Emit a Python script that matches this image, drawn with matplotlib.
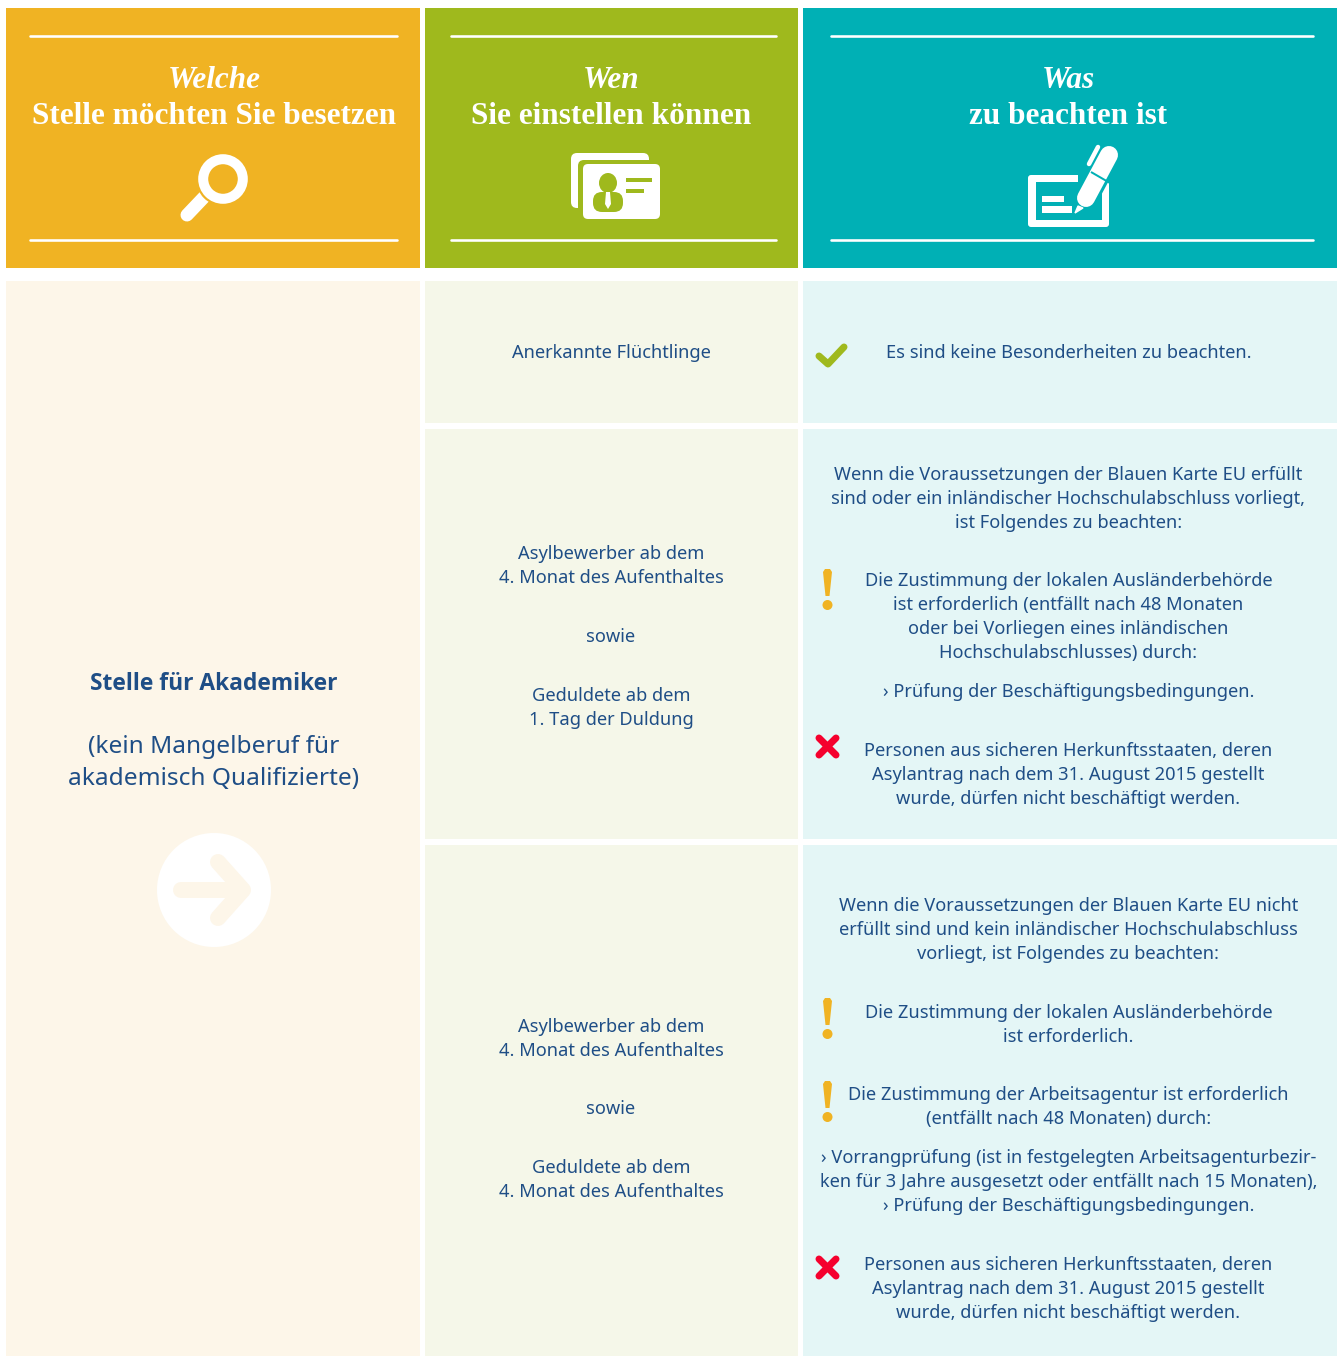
"""Job table: Stelle / Wen / Was, drawn in pixel coordinates."""
import matplotlib
matplotlib.use('Agg')
import matplotlib.pyplot as plt
from matplotlib.patches import Rectangle, FancyBboxPatch, Ellipse, Circle, Polygon

W, H = 1341, 1356

ORANGE = '#F0B323'
GREEN = '#9FB91D'
TEAL = '#00B0B5'
CREAM = '#FDF6E9'
PALE_GREEN = '#F5F7E9'
PALE_TEAL = '#E4F6F6'
NAVY = '#1F4E86'
RED = '#F5002D'
BODY = 'Noto Sans'
HEAD = 'Liberation Serif'

# texts
head_italic = ['Welche', 'Wen', 'Was']
head_bold = ['Stelle möchten Sie besetzen', 'Sie einstellen können', 'zu beachten ist']
job_title = 'Stelle für Akademiker'
job_note = ['(kein Mangelberuf für', 'akademisch Qualifizierte)']
who_1 = ['Anerkannte Flüchtlinge']
who_2 = ['Asylbewerber ab dem', '4. Monat des Aufenthaltes', 'sowie', 'Geduldete ab dem', '1. Tag der Duldung']
who_3 = ['Asylbewerber ab dem', '4. Monat des Aufenthaltes', 'sowie', 'Geduldete ab dem', '4. Monat des Aufenthaltes']
what_1 = ['Es sind keine Besonderheiten zu beachten.']
what_2 = ['Wenn die Voraussetzungen der Blauen Karte EU erfüllt',
          'sind oder ein inländischer Hochschulabschluss vorliegt,',
          'ist Folgendes zu beachten:',
          'Die Zustimmung der lokalen Ausländerbehörde',
          'ist erforderlich (entfällt nach 48 Monaten',
          'oder bei Vorliegen eines inländischen',
          'Hochschulabschlusses) durch:',
          '› Prüfung der Beschäftigungsbedingungen.',
          'Personen aus sicheren Herkunftsstaaten, deren',
          'Asylantrag nach dem 31. August 2015 gestellt',
          'wurde, dürfen nicht beschäftigt werden.']
what_3 = ['Wenn die Voraussetzungen der Blauen Karte EU nicht',
          'erfüllt sind und kein inländischer Hochschulabschluss',
          'vorliegt, ist Folgendes zu beachten:',
          'Die Zustimmung der lokalen Ausländerbehörde',
          'ist erforderlich.',
          'Die Zustimmung der Arbeitsagentur ist erforderlich',
          '(entfällt nach 48 Monaten) durch:',
          '› Vorrangprüfung (ist in festgelegten Arbeitsagenturbezir-',
          'ken für 3 Jahre ausgesetzt oder entfällt nach 15 Monaten),',
          '› Prüfung der Beschäftigungsbedingungen.',
          'Personen aus sicheren Herkunftsstaaten, deren',
          'Asylantrag nach dem 31. August 2015 gestellt',
          'wurde, dürfen nicht beschäftigt werden.']

# line centres, in pixels from the top
who_2_y = [552, 576, 635, 694, 718]
who_3_y = [1025, 1049, 1107, 1166, 1190]
what_2_y = [473, 497, 521, 579, 603, 627, 651, 690, 749, 773, 797]
what_3_y = [904, 928, 952, 1011, 1035, 1093, 1117, 1156, 1180, 1204, 1263, 1287, 1311]

fig = plt.figure(figsize=(W / 100, H / 100), dpi=100)
ax = fig.add_axes([0, 0, 1, 1])
ax.set_xlim(0, W)
ax.set_ylim(H, 0)
ax.axis('off')


def px(v):
    return v * 72 / 100


def box(x0, y0, x1, y1, color, z=1):
    ax.add_patch(Rectangle((x0, y0), x1 - x0, y1 - y0, fc=color, ec='none', zorder=z))


def rbox(x0, y0, x1, y1, color, r=4, z=3):
    ax.add_patch(FancyBboxPatch((x0 + r, y0 + r), x1 - x0 - 2 * r, y1 - y0 - 2 * r,
                                boxstyle='round,pad=%g,rounding_size=%g' % (r, r),
                                fc=color, ec='none', zorder=z))


def stroke(xs, ys, color, width, z=3, cap='round'):
    ax.plot(xs, ys, color=color, lw=px(width), solid_capstyle=cap, solid_joinstyle='round', zorder=z)


def lines(x, texts, ys, size=13.15):
    for t, y in zip(texts, ys):
        ax.text(x, y + 6.75, t, ha='center', va='baseline', color=NAVY,
                family=BODY, fontsize=size, zorder=5)


def warn(y):
    ax.add_patch(Polygon([(823, y + 3), (825, y), (830, y), (832, y + 3), (829.5, y + 27), (825.5, y + 27)],
                         fc=ORANGE, ec='none', zorder=3))
    ax.add_patch(Circle((827.5, y + 36), 5, fc=ORANGE, ec='none', zorder=3))


def cross(y):
    stroke([819, 836], [y - 8.5, y + 8.5], RED, 7)
    stroke([819, 836], [y + 8.5, y - 8.5], RED, 7)


# header and body cells
for x0, x1, head, pale in [(425, 798, GREEN, PALE_GREEN), (803, 1337, TEAL, PALE_TEAL)]:
    box(x0, 8, x1, 268, head)
    box(x0, 281, x1, 423, pale)
    box(x0, 429, x1, 839, pale)
    box(x0, 845, x1, 1356, pale)
box(6, 8, 420, 268, ORANGE)
box(6, 281, 420, 1356, CREAM)

# white rules in the header
for x0, x1 in [(29, 398), (450, 777), (830, 1314)]:
    for y in (36, 240):
        stroke([x0 + 1.3, x1 - 1.3], [y, y], 'white', 2.6)

# header titles
for x, a, b in zip([214, 611, 1068.5], head_italic, head_bold):
    ax.text(x, 88, a, ha='center', va='baseline', color='white', family=HEAD,
            style='italic', weight='bold', fontsize=22.5, zorder=5)
    ax.text(x, 124, b, ha='center', va='baseline', color='white', family=HEAD,
            weight='bold', fontsize=22.5, zorder=5)

# magnifier
stroke([207, 187], [194, 215], 'white', 13)
ax.add_patch(Circle((223, 179), 27, fc=ORANGE, ec='none', zorder=3.1))
ax.add_patch(Circle((223, 179), 19.8, fc='none', ec='white', lw=px(10), zorder=3.2))

# id cards
rbox(571, 153, 649, 208, 'white', 6)
rbox(578, 160, 660, 222, GREEN, 6, z=3)
rbox(583, 164, 660, 219, 'white', 5, z=4)
ax.add_patch(Ellipse((608, 183), 18, 20, fc=GREEN, ec='none', zorder=5))
rbox(593, 192, 623, 212, GREEN, 9, z=5)
ax.add_patch(Polygon([(606, 192), (610, 192), (611, 204), (608, 209), (605, 204)], fc='white', ec='none', zorder=6))
box(626, 178, 652, 182, GREEN, 5)
box(626, 189, 644, 193, GREEN, 5)

# cheque and pen
rbox(1028, 175, 1109, 227, 'white', 3)
box(1036, 182, 1102, 220, TEAL, 3.1)
box(1078, 174, 1110, 182, TEAL, 3.1)
box(1042, 196, 1064, 202, 'white', 3.2)
box(1042, 206, 1072, 213, 'white', 3.2)
stroke([1109, 1086], [155, 198], TEAL, 24, z=3.3)
stroke([1109, 1086], [155, 198], 'white', 18, z=3.4)
stroke([1091, 1110], [172, 183], TEAL, 2, z=3.5, cap='butt')
stroke([1098, 1089], [147, 164], 'white', 4.5, z=3.4)
ax.add_patch(Polygon([(1075, 213), (1078, 206), (1083, 208)], fc='white', ec='white', lw=1, zorder=3.4))

# left column
ax.text(214, 690, job_title, ha='center', va='baseline', color=NAVY, family='Open Sans',
        weight='bold', fontsize=16.4, zorder=5)
for t, y in zip(job_note, [745, 777]):
    ax.text(214, y + 8, t, ha='center', va='baseline', color=NAVY, family=BODY, fontsize=17.6, zorder=5)
ax.add_patch(Circle((214, 890), 57, fc='white', ec='none', zorder=3))
stroke([181, 225], [890, 890], CREAM, 16, z=4)
stroke([218, 243, 218], [862, 890, 918], CREAM, 16, z=4)

# who
lines(611, who_1, [351])
lines(611, who_2, who_2_y)
lines(611, who_3, who_3_y)

# what
lines(1068.5, what_1, [351])
lines(1068.5, what_2, what_2_y)
lines(1068.5, what_3, what_3_y)

# status marks
stroke([819, 828, 844], [356, 364, 347], GREEN, 7)
warn(569)
warn(998)
warn(1081)
cross(746.5)
cross(1267.5)

fig.savefig('out.png', dpi=100, facecolor='white')
